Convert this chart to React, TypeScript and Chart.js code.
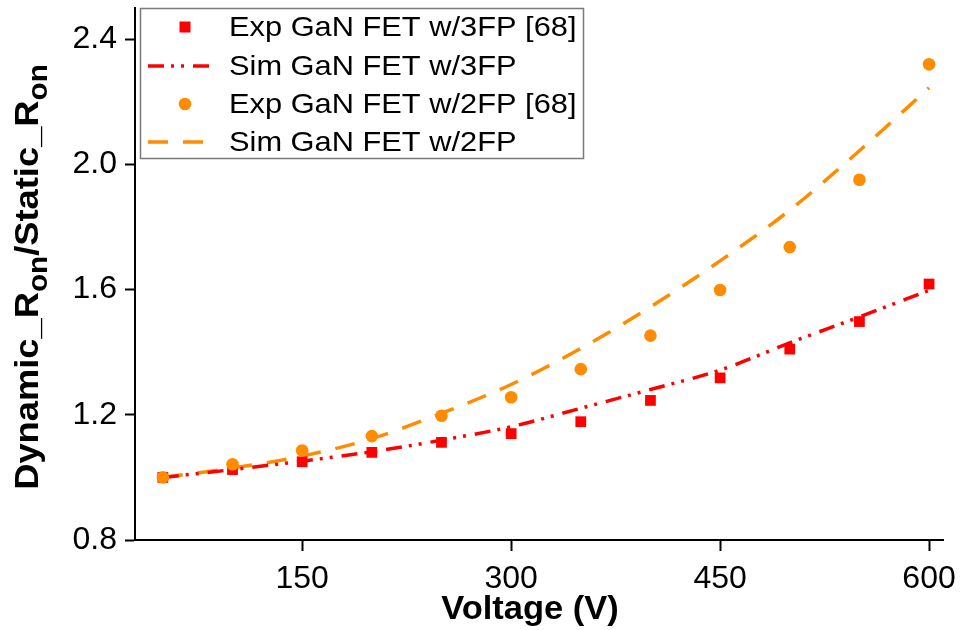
import React, { useEffect, useRef } from "react";
import { Chart, registerables } from "chart.js";

Chart.register(...registerables);

// ---- data ----
const voltages = [50, 100, 150, 200, 250, 300, 350, 400, 450, 500, 550, 600];
const exp3FP = [1.0, 1.025, 1.05, 1.08, 1.112, 1.14, 1.178, 1.246, 1.318, 1.41, 1.498, 1.618];
const sim3FP = [1.0, 1.025, 1.052, 1.082, 1.119, 1.162, 1.221, 1.281, 1.343, 1.43, 1.513, 1.598];
const exp2FP = [1.0, 1.042, 1.086, 1.132, 1.197, 1.256, 1.346, 1.453, 1.599, 1.736, 1.951, 2.32];
const sim2FP = [1.0, 1.03, 1.068, 1.124, 1.205, 1.297, 1.412, 1.545, 1.692, 1.854, 2.044, 2.245];
const xTicks = [150, 300, 450, 600];
const yTicks = [0.8, 1.2, 1.6, 2.0, 2.4];
const legendLabels = [
  "Exp GaN FET w/3FP [68]",
  "Sim GaN FET w/3FP",
  "Exp GaN FET w/2FP [68]",
  "Sim GaN FET w/2FP",
];
const xTitle = "Voltage (V)";

const RED = "#FF0000";
const ORANGE = "#FF8C00";
const FONT = "'Liberation Sans', Arial, sans-serif";
const RED_DASH = [16, 7, 3, 7, 3, 9];
const ORANGE_DASH = [20, 15];

const pts = (ys: number[]) => voltages.map((x, i) => ({ x, y: ys[i] }));

const overlay = {
  id: "overlay",
  afterDraw(chart: any) {
    const ctx = chart.ctx as CanvasRenderingContext2D;
    ctx.save();
    // legend box
    ctx.fillStyle = "#fff";
    ctx.fillRect(140, 8, 444, 151);
    ctx.strokeStyle = "#7a7a7a";
    ctx.lineWidth = 1.5;
    ctx.strokeRect(140.5, 8.5, 443, 150);

    const rows = [27, 66, 104, 142];
    ctx.fillStyle = RED;
    ctx.fillRect(185 - 5.5, rows[0] - 5.5, 11, 11);
    ctx.strokeStyle = RED;
    ctx.lineWidth = 3.5;
    ctx.setLineDash(RED_DASH);
    ctx.beginPath();
    ctx.moveTo(148, rows[1]);
    ctx.lineTo(216, rows[1]);
    ctx.stroke();
    ctx.setLineDash([]);
    ctx.fillStyle = ORANGE;
    ctx.beginPath();
    ctx.arc(185, rows[2], 6.3, 0, Math.PI * 2);
    ctx.fill();
    ctx.strokeStyle = ORANGE;
    ctx.setLineDash(ORANGE_DASH);
    ctx.beginPath();
    ctx.moveTo(148, rows[3]);
    ctx.lineTo(216, rows[3]);
    ctx.stroke();
    ctx.setLineDash([]);

    ctx.fillStyle = "#000";
    ctx.font = `28px ${FONT}`;
    ctx.textBaseline = "middle";
    ctx.textAlign = "left";
    legendLabels.forEach((t, i) => {
      ctx.save();
      ctx.translate(229, rows[i] + 1);
      ctx.scale(1.1, 1);
      ctx.fillText(t, 0, 0);
      ctx.restore();
    });

    // x title
    ctx.save();
    ctx.font = `bold 33px ${FONT}`;
    ctx.textBaseline = "alphabetic";
    ctx.textAlign = "center";
    ctx.translate(530, 619);
    ctx.scale(1.045, 1);
    ctx.fillText(xTitle, 0, 0);
    ctx.restore();

    // y title with subscripts
    const parts: [string, boolean][] = [
      ["Dynamic_R", false],
      ["on", true],
      ["/Static_R", false],
      ["on", true],
    ];
    const mainFont = `bold 33px ${FONT}`;
    const subFont = `bold 27px ${FONT}`;
    let W = 0;
    const widths = parts.map(([t, sub]) => {
      ctx.font = sub ? subFont : mainFont;
      const w = ctx.measureText(t).width;
      W += w;
      return w;
    });
    ctx.save();
    ctx.translate(38, 277);
    ctx.rotate(-Math.PI / 2);
    ctx.scale(1.1, 1);
    ctx.textAlign = "left";
    ctx.textBaseline = "alphabetic";
    let x = -W / 2;
    parts.forEach(([t, sub], i) => {
      ctx.font = sub ? subFont : mainFont;
      ctx.fillText(t, x, sub ? 9 : 0);
      x += widths[i];
    });
    ctx.restore();

    ctx.restore();
  },
};

export default function App() {
  const ref = useRef<HTMLCanvasElement | null>(null);
  useEffect(() => {
    if (!ref.current) return;
    const chart = new Chart(ref.current, {
      type: "scatter",
      data: {
        datasets: [
          {
            label: legendLabels[0],
            data: pts(exp3FP),
            showLine: false,
            pointStyle: "rect",
            pointRadius: 7.6,
            pointBackgroundColor: RED,
            pointBorderColor: RED,
            pointBorderWidth: 0,
            order: 1,
          },
          {
            label: legendLabels[1],
            data: pts(sim3FP),
            showLine: true,
            borderColor: RED,
            borderWidth: 3.5,
            borderDash: RED_DASH,
            pointRadius: 0,
            cubicInterpolationMode: "monotone",
            order: 2,
          },
          {
            label: legendLabels[2],
            data: pts(exp2FP),
            showLine: false,
            pointStyle: "circle",
            pointRadius: 6.3,
            pointBackgroundColor: ORANGE,
            pointBorderColor: ORANGE,
            pointBorderWidth: 0,
            order: 0,
          },
          {
            label: legendLabels[3],
            data: pts(sim2FP),
            showLine: true,
            borderColor: ORANGE,
            borderWidth: 3.5,
            borderDash: ORANGE_DASH,
            pointRadius: 0,
            cubicInterpolationMode: "monotone",
            order: 3,
          },
        ],
      },
      options: {
        responsive: false,
        animation: false,
        layout: { padding: { top: 8, right: 17, left: 0, bottom: 0 } },
        plugins: { legend: { display: false }, tooltip: { enabled: false } },
        scales: {
          x: {
            type: "linear",
            min: 30,
            max: 610,
            afterBuildTicks: (s: any) => {
              s.ticks = xTicks.map((v) => ({ value: v }));
            },
            afterFit: (s: any) => {
              s.height = 90;
              s.paddingLeft = 0;
              s.paddingRight = 0;
            },
            ticks: {
              color: "#000",
              font: { family: FONT, size: 32 },
              padding: 9,
              maxRotation: 0,
              callback: (v: any) => String(v),
            },
            grid: {
              drawOnChartArea: false,
              drawTicks: true,
              tickLength: 11,
              tickColor: "#000",
              tickWidth: 2,
            },
            border: { display: true, color: "#000", width: 2 },
          },
          y: {
            type: "linear",
            min: 0.8,
            max: 2.5,
            afterBuildTicks: (s: any) => {
              s.ticks = yTicks.map((v) => ({ value: v }));
            },
            afterFit: (s: any) => {
              s.width = 135;
              s.paddingTop = 0;
              s.paddingBottom = 0;
            },
            ticks: {
              color: "#000",
              font: { family: FONT, size: 32 },
              padding: 8,
              callback: (v: any) => Number(v).toFixed(1),
            },
            grid: {
              drawOnChartArea: false,
              drawTicks: true,
              tickLength: 10,
              tickColor: "#000",
              tickWidth: 2,
            },
            border: { display: true, color: "#000", width: 2 },
          },
        },
      },
      plugins: [overlay],
    } as any);
    return () => chart.destroy();
  }, []);
  return (
    <div style={{ position: "absolute", left: 0, top: 0, width: 960, height: 630, background: "#fff" }}>
      <canvas ref={ref} width={960} height={630} style={{ display: "block" }} />
    </div>
  );
}
